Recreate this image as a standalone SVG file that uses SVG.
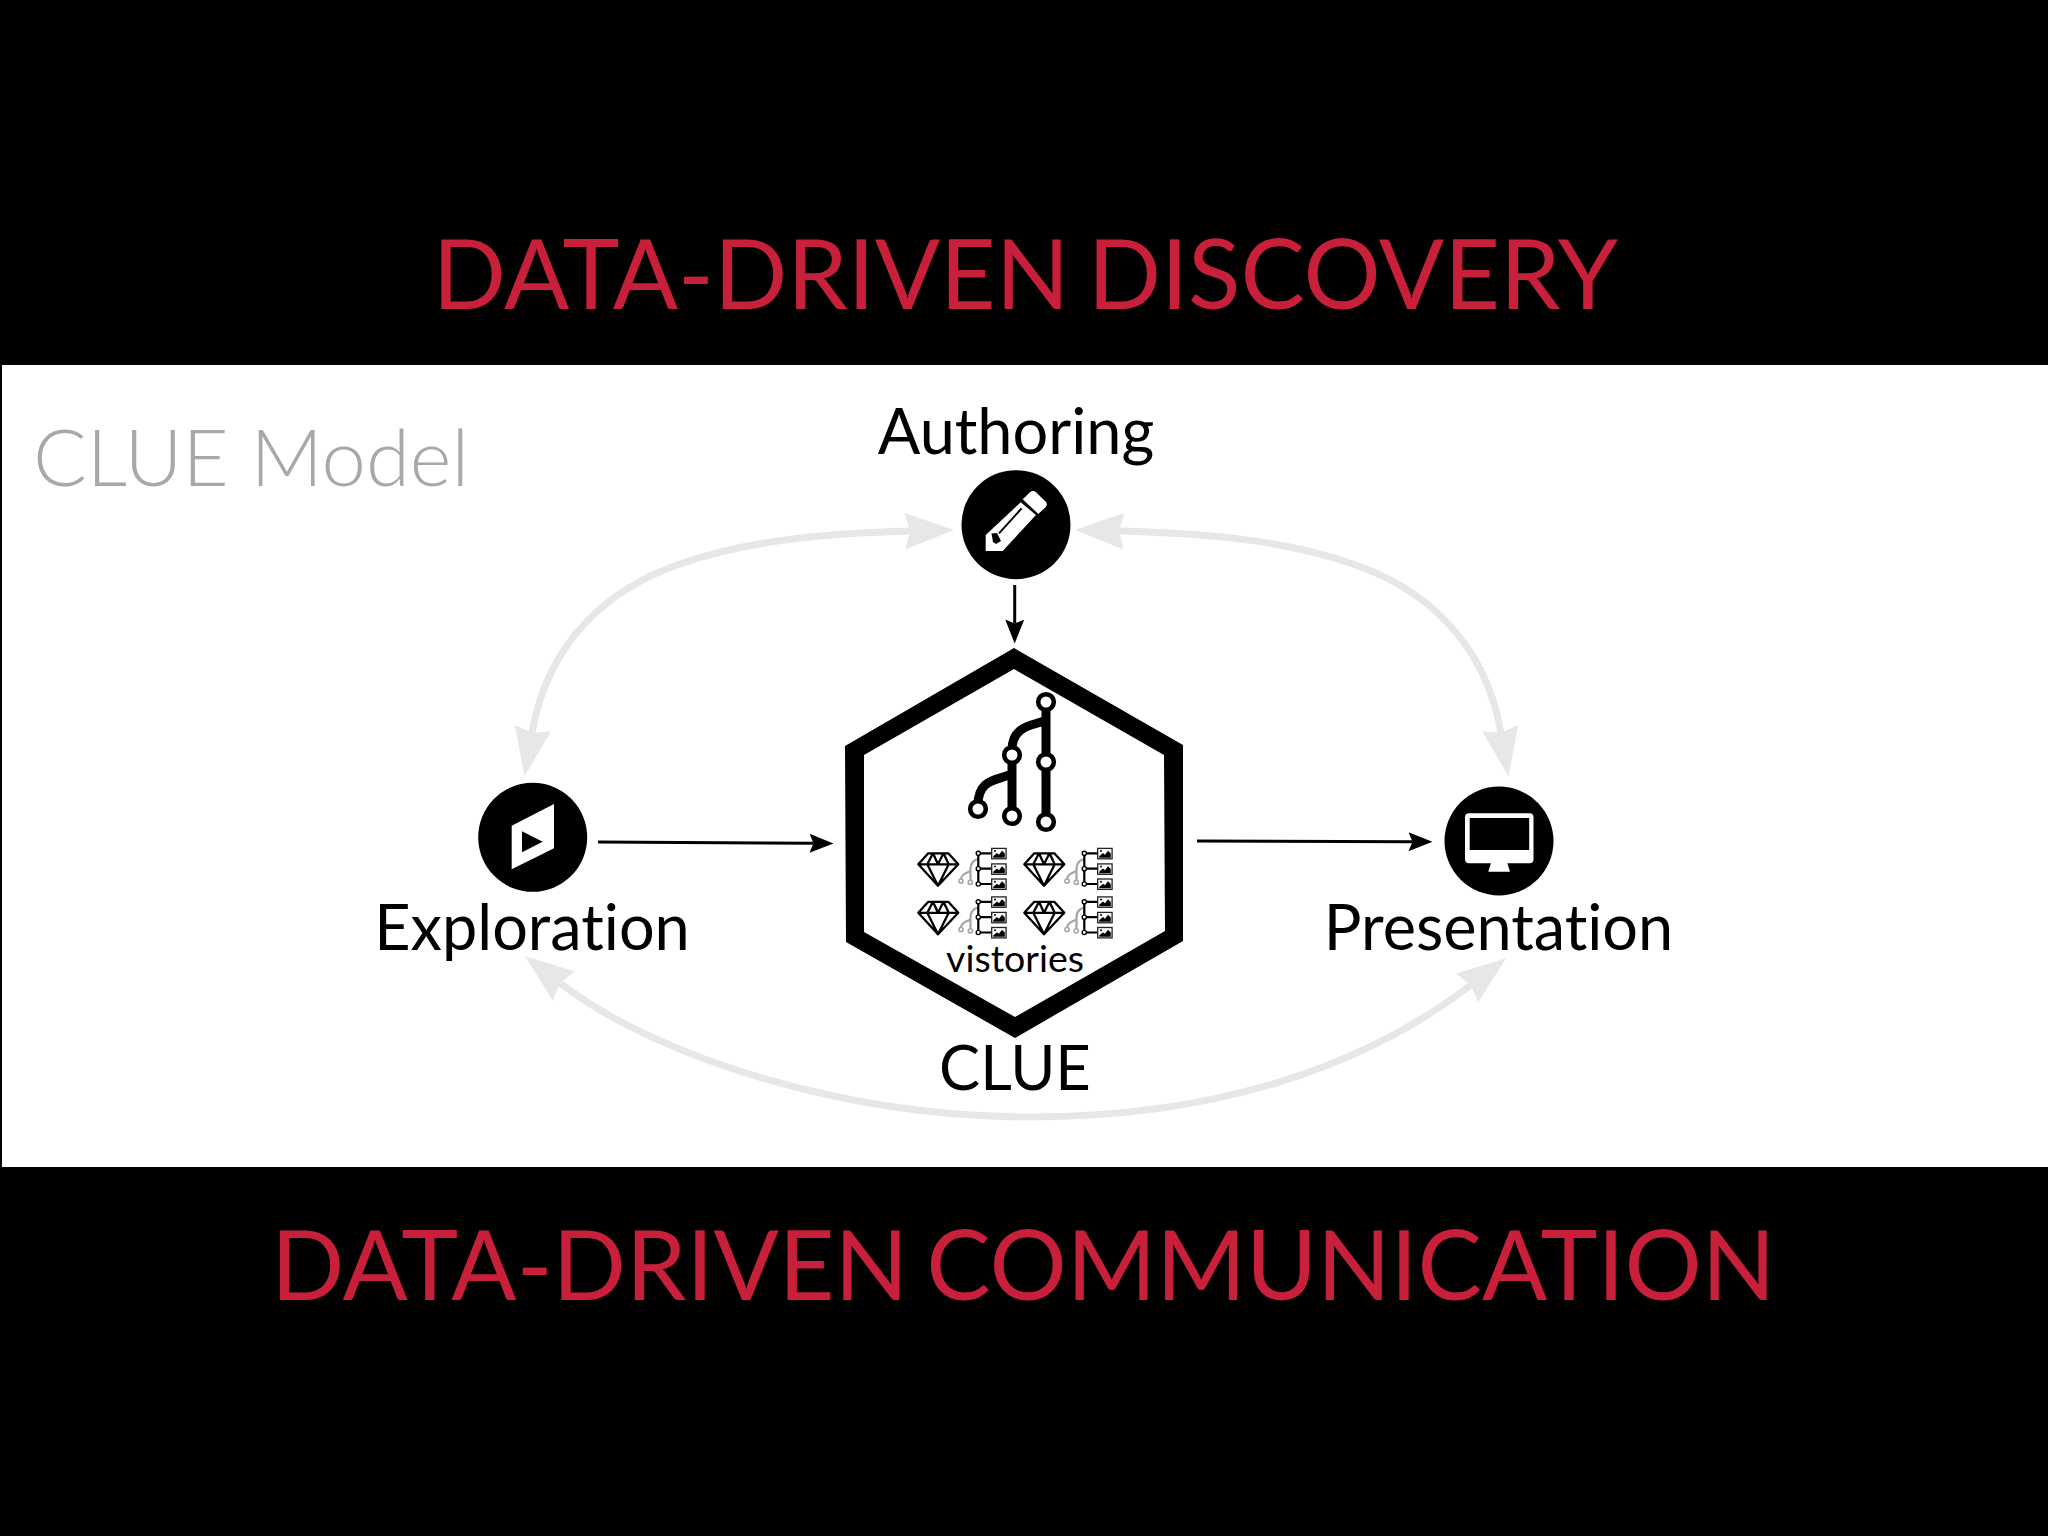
<svg xmlns="http://www.w3.org/2000/svg" width="2048" height="1536" viewBox="0 0 2048 1536">
<style>
text{font-family:Lato,"Liberation Sans",sans-serif;text-anchor:middle;fill:#000;font-variant-ligatures:none}
.title{font-size:96.5px;fill:#c8203b;word-spacing:-6.5px}
.label{font-size:63px}
.model{font-size:79.7px;font-weight:300;fill:#a8a8a8;text-anchor:start}
.gray{fill:none;stroke:#e8e6e8;stroke-width:7;marker-start:url(#gh);marker-end:url(#gh)}
.black{fill:none;stroke:#000;stroke-width:3;marker-end:url(#bh)}
.ring{fill:#fff;stroke:#000;stroke-width:4.6}
.tree{fill:none;stroke:#000;stroke-width:9}
.ctree{fill:none;stroke:#000;stroke-width:2.2}
.gtree{fill:none;stroke:#a4a4a4;stroke-width:2.2}
.dot{fill:#fff;stroke:#000;stroke-width:1.4}
.gdot{fill:#fff;stroke:#a4a4a4;stroke-width:1.5}
.gem{fill:none;stroke:#000;stroke-width:2.3;stroke-linejoin:round}
</style>
<defs>
<marker id="gh" markerUnits="userSpaceOnUse" markerWidth="50" markerHeight="40" refX="5" refY="20" orient="auto-start-reverse"><path d="M0,1.7L49,20L0,38.3L5,20Z" fill="#e8e6e8"/></marker>
<marker id="bh" markerUnits="userSpaceOnUse" markerWidth="26" markerHeight="22" refX="4" refY="11" orient="auto"><path d="M0,1.5L24,11L0,20.5L4,11Z" fill="#000"/></marker>
<g id="pic">
<rect x="0.7" y="0.7" width="14.4" height="10.4" fill="#fff" stroke="#222" stroke-width="1.3"/>
<path d="M2.2,10V8.6L6,5.4L8,7L11,3L13.8,5.8V10Z" fill="#000"/>
<circle cx="4" cy="3.4" r="1" fill="#000"/>
</g>
<g id="cell">
<path class="gem" d="M928.3,853.3H948.3L958.3,864.3L938,885.7L918.3,864.3ZM918.3,864.3H958.3M933,853.3L927.3,864.3L938,885.7L948.7,864.3L943.5,853.3M933,853.3L938,864.3L943.5,853.3"/>
<path class="gtree" d="M977.3,859.3C972,861 970.5,864 970.5,869V880M970.5,871C965,873 961,875 961,879"/>
<circle class="gdot" cx="961" cy="881" r="2.1"/>
<circle class="gdot" cx="970.3" cy="882.3" r="2.1"/>
<path class="ctree" d="M978.3,853.3V884M978.3,853.3H991M978.3,868.7H991M978.3,884H991"/>
<circle class="dot" cx="978.3" cy="853.3" r="2.1"/>
<circle class="dot" cx="978.3" cy="868.7" r="2.1"/>
<circle class="dot" cx="978.3" cy="884" r="2.1"/>
<use href="#pic" x="991" y="847.7"/>
<use href="#pic" x="991" y="863.2"/>
<use href="#pic" x="991" y="878.3"/>
</g>
</defs>
<rect id="background" width="2048" height="1536" fill="#000"/>
<rect id="panel" x="2" y="365" width="2046" height="802" fill="#fff"/>
<text class="title" x="1025.2" y="309">DATA-DRIVEN DISCOVERY</text>
<text class="title" x="1023.3" y="1300">DATA-DRIVEN COMMUNICATION</text>
<text class="model" x="33" y="486">CLUE Model</text>
<g id="connectors">
<path class="gray" d="M910,531C830,533 750,540 683,563C610,587 548,640 532,733"/>
<path class="gray" d="M1119,531C1203,533 1283,540 1350,563C1423,587 1485,640 1501,733"/>
<path class="gray" d="M560,983C660,1060 850,1117 1031,1117C1210,1117 1360,1070 1471,985"/>
<path class="black" d="M1014.7,585V623.5"/>
<path class="black" d="M598,842L813.5,843.3"/>
<path class="black" d="M1197,841L1412.5,841.7"/>
</g>
<g id="authoring">
<circle cx="1016" cy="524.7" r="54.5" fill="#000"/>
<path d="M985.7,535L1020.7,502.3L1036,515L1002.7,551H985.7Z" fill="#fff"/>
<path d="M1022.7,499.3L1030,492.3C1032,490.5 1034,490.5 1036,492.3L1045.3,501.3C1047.3,503.3 1047.3,505.3 1045.3,507.5L1038.3,514Z" fill="#fff"/>
<path d="M999,533.3L1021.7,508.3" stroke="#000" stroke-width="2" fill="none"/>
<path d="M991.5,533.5L997,533L1001,541L996,544L993,542Z" fill="#000"/>
<text class="label" x="1016" y="454">Authoring</text>
</g>
<g id="exploration">
<circle cx="532.7" cy="837.3" r="54.5" fill="#000"/>
<path d="M511.7,825.7L554,804V848.3L511.7,869.3Z" fill="#fff"/>
<path d="M522,831.3L542.7,841.7L522,852.3Z" fill="#000"/>
<text class="label" x="532" y="949.5">Exploration</text>
</g>
<g id="presentation">
<circle cx="1499" cy="841" r="54.5" fill="#000"/>
<rect x="1465" y="813.3" width="68.5" height="50" rx="4" fill="#fff"/>
<rect x="1469.7" y="818" width="59.5" height="32" fill="#000"/>
<path d="M1491,863H1507.3L1510,871.7H1488.3Z" fill="#fff"/>
<text class="label" x="1498.5" y="949.5">Presentation</text>
</g>
<g id="clue">
<path fill-rule="evenodd" d="M1014,648L1183,745L1183,941L1015,1038L846,942L845,746ZM1014,669L864,755L864,932L1015,1017L1165,931L1164,755Z" fill="#000"/>
<path class="tree" d="M1046,702V822M1012,755V816M1046,720C1035,726 1012,724 1012,750M1012,773C1002,781 978,776 978,805"/>
<circle class="ring" cx="1046" cy="702" r="7.8"/>
<circle class="ring" cx="1012" cy="755" r="7.8"/>
<circle class="ring" cx="1046" cy="762" r="7.8"/>
<circle class="ring" cx="978" cy="809" r="7.8"/>
<circle class="ring" cx="1012" cy="816" r="7.8"/>
<circle class="ring" cx="1046" cy="822" r="7.8"/>
<use href="#cell"/>
<use href="#cell" x="106"/>
<use href="#cell" y="48.5"/>
<use href="#cell" x="106" y="48.5"/>
<text x="1015" y="972" font-size="37.5">vistories</text>
<text x="1015" y="1090" font-size="61.5">CLUE</text>
</g>
</svg>
